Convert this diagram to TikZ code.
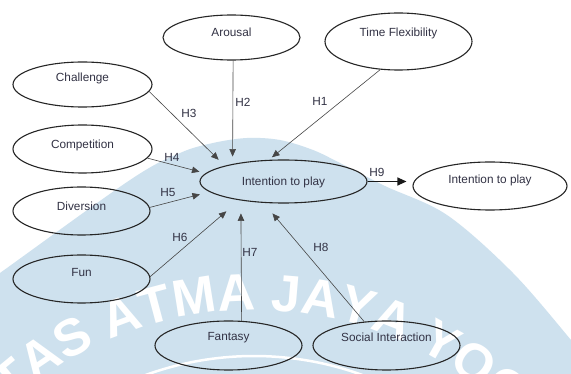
\documentclass[tikz,border=0pt]{standalone}
\usepackage{fontspec}
\setmainfont{Liberation Sans}
\usetikzlibrary{shapes.geometric,arrows.meta,decorations.text}
\definecolor{wmblue}{RGB}{206,225,238}
\definecolor{txt}{RGB}{50,50,68}
\definecolor{connc}{RGB}{70,70,70}
\newcommand{\rb}[2]{\raisebox{#1pt}[\height][\depth]{#2}}
\newcommand{\wmfont}{\fontsize{52}{52}\selectfont\bfseries}
\begin{document}
\begin{tikzpicture}[x=1pt,y=-1pt,
  oval/.style={ellipse, draw=black!85, line width=1.1pt, inner sep=0pt, text=txt, font=\fontsize{11.8}{14}\selectfont},
  conn/.style={draw=connc, line width=0.6pt, -{Triangle[length=7.5pt,width=6.5pt]}},
  hlab/.style={text=txt, font=\fontsize{11.8}{14}\selectfont, inner sep=0pt}]
\useasboundingbox (0,0) rectangle (571,374);
\fill[white] (0,0) rectangle (571,374);
% watermark
\begin{scope}
\clip (0,0) rectangle (571,374);
\begin{scope}[x=1pt,y=1pt,shift={(0pt,-374pt)}]
\fill[wmblue] plot[smooth,tension=0.55] coordinates {(-30,80) (0,101) (130,194) (180,221) (213,231) (247,236) (280,234) (313,224) (340,211) (385,188) (447,159) (513,101) (571,34) (590,10)} -- (600,-20) -- (-30,-20) -- cycle;
\draw[white, line width=2.5pt] (254,-300) ++(125:318) arc[start angle=125, end angle=55, radius=318];
\path[decorate, decoration={text along path, text={|\wmfont|TAS ATMA JAYA YOG}, text color=white}] (254,-300) ++(132:364) arc[start angle=132, end angle=35, radius=364];
\end{scope}
\end{scope}
% ellipses
\node[oval, minimum width=137pt, minimum height=45pt] (arousal) at (231.5,37.5) {\rb{5}{Arousal}};
\node[oval, minimum width=147pt, minimum height=57pt] (tf) at (398.5,41.5) {\rb{8}{Time Flexibility}};
\node[oval, minimum width=139pt, minimum height=45pt] (chal) at (82.5,84.5) {\rb{6}{Challenge}};
\node[oval, minimum width=139pt, minimum height=48pt] (comp) at (82.5,149) {\rb{4}{Competition}};
\node[oval, minimum width=137pt, minimum height=48pt] (diver) at (81.5,211) {\rb{5}{Diversion}};
\node[oval, minimum width=137pt, minimum height=48pt] (fun) at (81.5,279) {\rb{7}{Fun}};
\node[oval, minimum width=167pt, minimum height=43pt] (intent) at (283.5,181.5) {\rb{-1}{Intention to play}};
\node[oval, minimum width=154pt, minimum height=48pt] (intent2) at (490,186) {\rb{6}{Intention to play}};
\node[oval, minimum width=147pt, minimum height=49pt] (fantasy) at (228.5,345.5) {\rb{8}{Fantasy}};
\node[oval, minimum width=147pt, minimum height=49pt] (social) at (386.5,345.5) {\rb{8}{Social Interaction}};
% connectors
\draw[conn, shorten >=4pt] (tf.237) -- (intent.124);
\draw[conn, shorten >=7.4pt] (arousal.-86) -- (intent.161);
\draw[conn, shorten >=8.5pt] (chal.-6) -- (intent.165);
\draw[conn, shorten >=6.2pt] (comp.-8) -- (intent.174);
\draw[conn, shorten >=9.8pt] (diver.3) -- (intent.188);
\draw[conn, shorten >=17pt] (fun.2) -- (intent.203);
\draw[conn, shorten >=12.9pt] (fantasy.62) -- (intent.204);
\draw[conn, shorten >=13.8pt] (social.133) -- (intent.227);
\draw[line width=1.2pt, black!90, -{Triangle[length=9pt,width=8pt]}, shorten >=6pt] (intent.east) -- (intent.east -| intent2.west);
% labels
\node[hlab] (h1) at (320,101) {H1};
\node[hlab] (h2) at (243,102) {H2};
\node[hlab] (h3) at (189,113) {H3};
\node[hlab] (h4) at (172,157) {H4};
\node[hlab] (h5) at (168,193) {H5};
\node[hlab] (h6) at (180,237) {H6};
\node[hlab] (h7) at (250,252) {H7};
\node[hlab] (h8) at (321,247) {H8};
\node[hlab] (h9) at (377,172) {H9};
\end{tikzpicture}
\end{document}
